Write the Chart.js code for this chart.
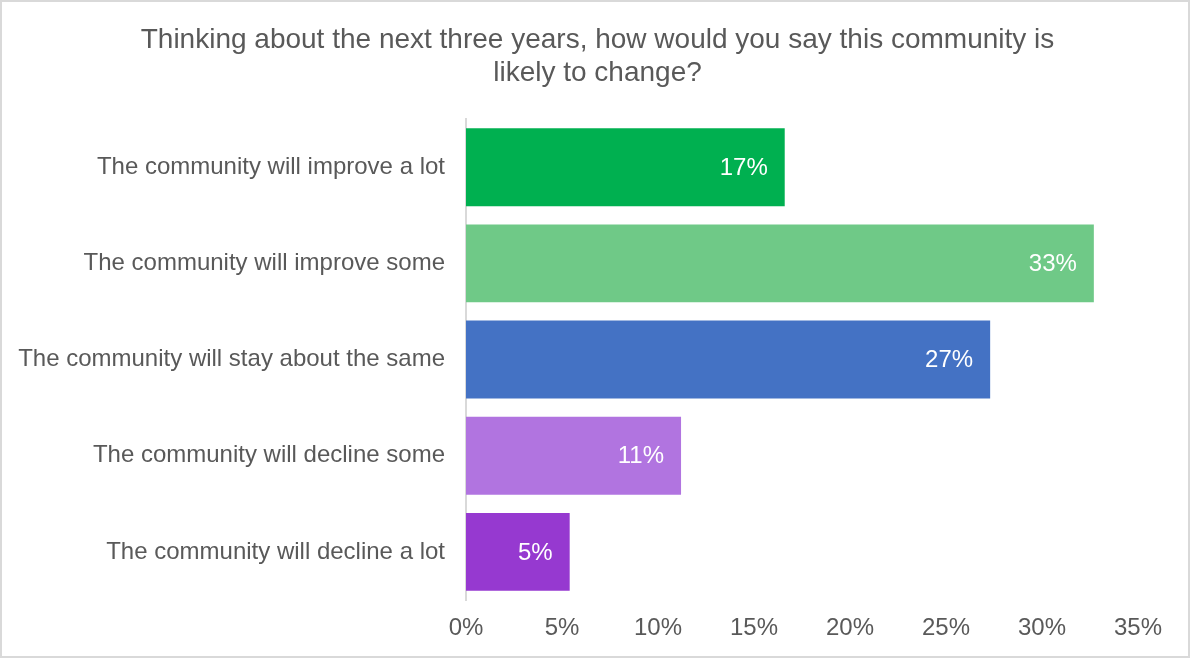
<!DOCTYPE html>
<html>
<head>
<meta charset="utf-8">
<title>Community outlook</title>
<script src="https://cdn.jsdelivr.net/npm/chart.js@4.4.1/dist/chart.umd.min.js"></script>
<style>
  html, body { margin: 0; padding: 0; background: #ffffff; }
  #wrap { position: relative; width: 1191px; height: 659px; }
</style>
</head>
<body>
<div id="wrap"><canvas id="chart"></canvas></div>
<script>
// Survey answers, share of respondents (%)
const answers = [
  'The community will improve a lot',
  'The community will improve some',
  'The community will stay about the same',
  'The community will decline some',
  'The community will decline a lot'
];
const shares = [16.6, 32.7, 27.3, 11.2, 5.4];
const barColors = ['#00B050', '#6FC987', '#4472C4', '#B174E0', '#9639D0'];
const tickSteps = [0, 5, 10, 15, 20, 25, 30, 35];

const textColor = '#595959';
const fontFamily = '"Liberation Sans", Arial, sans-serif';

Chart.defaults.font.family = fontFamily;
Chart.defaults.color = textColor;

// white percentage written inside the end of each bar
const barValueLabels = {
  id: 'barValueLabels',
  afterDatasetsDraw(chart) {
    const ctx = chart.ctx;
    const meta = chart.getDatasetMeta(0);
    ctx.save();
    ctx.font = '24px ' + fontFamily;
    ctx.fillStyle = '#ffffff';
    ctx.textAlign = 'right';
    ctx.textBaseline = 'middle';
    meta.data.forEach((bar, i) => {
      ctx.fillText(Math.round(shares[i]) + '%', bar.x - 17, bar.y + 1);
    });
    ctx.restore();
  }
};

// the right padding would push the title off centre, so stretch its box
// back across the whole canvas once layout is done
const centreTitle = {
  id: 'centreTitle',
  afterLayout(chart) {
    const t = chart.titleBlock;
    if (!t) return;
    t.left = 4;
    t.right = chart.width;
    t.width = t.right - t.left;
  }
};

// thin grey frame round the whole chart
const chartFrame = {
  id: 'chartFrame',
  afterDraw(chart) {
    const ctx = chart.ctx;
    ctx.save();
    ctx.strokeStyle = '#d9d9d9';
    ctx.lineWidth = 2;
    ctx.strokeRect(1, 1, chart.width - 3, chart.height - 3);
    ctx.restore();
  }
};

new Chart(document.getElementById('chart'), {
  type: 'bar',
  data: {
    labels: answers,
    datasets: [{
      data: shares,
      backgroundColor: barColors,
      borderWidth: 0,
      categoryPercentage: 1,
      barPercentage: 0.81
    }]
  },
  options: {
    indexAxis: 'y',
    responsive: true,
    maintainAspectRatio: false,
    animation: false,
    layout: { padding: { left: 0, right: 53, top: 0, bottom: 0 } },
    scales: {
      x: {
        min: 0,
        max: 35,
        afterBuildTicks(scale) {
          scale.ticks = tickSteps.map(v => ({ value: v }));
        },
        afterFit(scale) { scale.height = 59; },
        grid: { display: false, drawTicks: false },
        border: { display: false },
        ticks: {
          padding: 14,
          color: textColor,
          font: { size: 24 },
          maxRotation: 0,
          callback: v => v + '%'
        }
      },
      y: {
        afterFit(scale) { scale.width = 466; },
        grid: { display: false, drawTicks: false },
        border: { display: true, color: '#d9d9d9', width: 2 },
        ticks: {
          padding: 21,
          color: textColor,
          font: { size: 24 }
        }
      }
    },
    plugins: {
      legend: { display: false },
      tooltip: { enabled: false },
      title: {
        display: true,
        text: [
          'Thinking about the next three years, how would you say this community is',
          'likely to change?'
        ],
        color: textColor,
        font: { size: 28, weight: 'normal', lineHeight: 1.18 },
        padding: { top: 23.5, bottom: 29.5 }
      }
    }
  },
  plugins: [barValueLabels, centreTitle, chartFrame]
});
</script>
</body>
</html>
